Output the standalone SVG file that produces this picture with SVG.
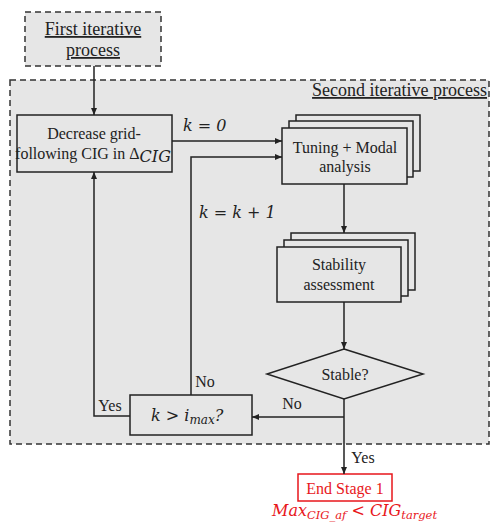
<svg xmlns="http://www.w3.org/2000/svg" width="493" height="523" viewBox="0 0 493 523">
<style>
.box{fill:#e6e6e6;stroke:#222;stroke-width:1.5}
.dash{fill:#e6e6e6;stroke:#333;stroke-width:1.5;stroke-dasharray:6 4}
.t{font-family:"Liberation Serif","Times New Roman",serif;font-size:16px;fill:#222;text-anchor:middle}
.h{font-size:18px}
.m{font-family:"DejaVu Serif","Liberation Serif",serif;font-style:italic;font-size:16px;fill:#222}
.ln{fill:none;stroke:#222;stroke-width:1.5}
.red{fill:#e8161b}
</style>
<defs>
<marker id="ah" markerWidth="8" markerHeight="8" refX="7" refY="4" orient="auto" markerUnits="userSpaceOnUse">
<path d="M0,1 L7,4 L0,7 Z" fill="#222"/>
</marker>
</defs>
<rect width="493" height="523" fill="#fff"/>
<g id="second-process">
<rect class="dash" x="10" y="80" width="479" height="364"/>
<text class="t h" x="487" y="96" style="text-anchor:end" text-decoration="underline">Second iterative process</text>
</g>
<g id="first-process">
<rect class="dash" x="25" y="12" width="136" height="54"/>
<text class="t h" x="93" y="35" text-decoration="underline">First iterative</text>
<text class="t h" x="93" y="56" text-decoration="underline">process</text>
</g>
<g id="decrease">
<rect class="box" x="17" y="115" width="155" height="57"/>
<text class="t" x="94" y="139">Decrease grid-</text>
<text class="t" x="93" y="159">following CIG in Δ<tspan class="m" font-size="10" dy="3">CIG</tspan></text>
</g>
<g id="tuning">
<rect class="box" x="296" y="115" width="124" height="56"/>
<rect class="box" x="289" y="121" width="124" height="56"/>
<rect class="box" x="282" y="128" width="125" height="56"/>
<text class="t" x="345" y="153">Tuning + Modal</text>
<text class="t" x="345" y="172">analysis</text>
</g>
<g id="stability">
<rect class="box" x="291" y="233" width="124" height="57"/>
<rect class="box" x="284" y="240" width="124" height="56"/>
<rect class="box" x="277" y="247" width="124" height="55"/>
<text class="t" x="339" y="270">Stability</text>
<text class="t" x="339" y="290">assessment</text>
</g>
<g id="stable">
<polygon class="box" points="344,349 423,374 344,399 267,374"/>
<text class="t" x="345" y="380">Stable?</text>
</g>
<g id="kcheck">
<rect class="box" x="130" y="395" width="122" height="40"/>
<text class="m" x="151" y="421">k &gt; i<tspan font-size="12" dy="3">max</tspan><tspan dy="-3">?</tspan></text>
</g>
<g id="end">
<rect x="298" y="474" width="94" height="27" fill="#fff" stroke="#e8161b" stroke-width="1.5"/>
<text class="t red" x="345" y="494">End Stage 1</text>
<text class="m red" x="272" y="516" font-size="16.5">Max<tspan font-size="11.5" dy="3">CIG_af</tspan><tspan dy="-3"> &lt; CIG</tspan><tspan font-size="11.5" dy="3">target</tspan></text>
</g>
<g id="connectors">
<path class="ln" d="M94,66 V115" marker-end="url(#ah)"/>
<path class="ln" d="M172,141 H282" marker-end="url(#ah)"/>
<path class="ln" d="M191,395 V157 H282" marker-end="url(#ah)"/>
<path class="ln" d="M344,184 V233" marker-end="url(#ah)"/>
<path class="ln" d="M344,302 V349" marker-end="url(#ah)"/>
<path class="ln" d="M344,399 V474" marker-end="url(#ah)"/>
<path class="ln" d="M344,417 H252" marker-end="url(#ah)"/>
<path class="ln" d="M130,416 H94 V172" marker-end="url(#ah)"/>
<text class="m" x="183" y="131">k = 0</text>
<text class="m" x="199" y="218">k =  k + 1</text>
<text class="t" x="292" y="409">No</text>
<text class="t" x="205" y="387">No</text>
<text class="t" x="110" y="411">Yes</text>
<text class="t" x="363" y="463">Yes</text>
</g>
</svg>
